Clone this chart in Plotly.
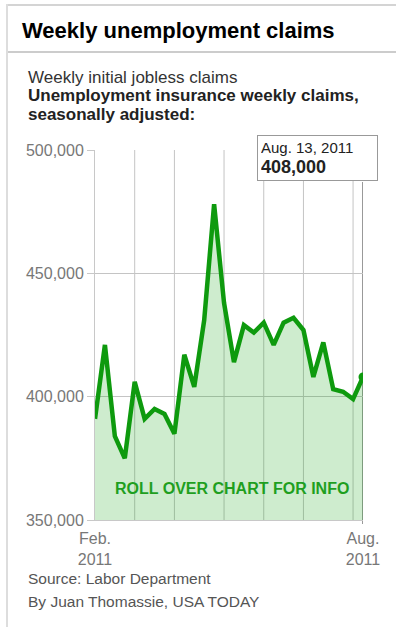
import plotly.graph_objects as go
import pandas as pd

# ---- data ----
weeks = pd.date_range("2011-02-05", "2011-08-13", freq="7D")
claims = [391000, 421000, 384000, 375000, 406000, 391000, 395000, 393000, 385000,
          417000, 404000, 431000, 478000, 438000, 414000, 429000, 426000, 430000,
          421000, 430000, 432000, 427000, 408000, 422000, 403000, 402000, 399000, 408000]
grid_dates = ["2011-03-05", "2011-04-02", "2011-05-07", "2011-06-04", "2011-07-02", "2011-08-06"]
y_ticks = [350000, 400000, 450000, 500000]
x_tick_text = ["Feb.<br>2011", "Aug.<br>2011"]

title = "Weekly unemployment claims"
subtitle = "Weekly initial jobless claims"
subtitle_bold = ["Unemployment insurance weekly claims,", "seasonally adjusted:"]
source = ["Source: Labor Department", "By Juan Thomassie, USA TODAY"]
rollover = "ROLL OVER CHART FOR INFO"

W, H = 396, 627
L, R, T, B = 95, 33, 150, 107
PW, PH = W - L - R, H - T - B

def px(x):
    return (x - L) / PW

def py(y):
    return (H - B - y) / PH

FONT = "Arial, Liberation Sans, sans-serif"
GREEN = "#0e9a0e"

fig = go.Figure()
fig.add_trace(go.Scatter(
    x=weeks, y=claims, mode="lines", fill="tozeroy",
    line=dict(color=GREEN, width=4.5), fillcolor="rgba(25,165,25,0.21)",
    hoverinfo="skip", showlegend=False))
fig.add_trace(go.Scatter(
    x=[weeks[-1]], y=[claims[-1]], mode="markers",
    marker=dict(color=GREEN, size=9), hoverinfo="skip", showlegend=False))

shapes = []
for d in grid_dates:
    shapes.append(dict(type="line", xref="x", yref="paper", x0=d, x1=d, y0=0, y1=1,
                       line=dict(color="#c4c4c4", width=1), layer="below"))
shapes.append(dict(type="line", xref="x", yref="paper", x0=weeks[-1], x1=weeks[-1],
                   y0=py(524), y1=py(182), line=dict(color="#999999", width=2), layer="below"))
shapes.append(dict(type="line", xref="paper", yref="paper", x0=px(7), x1=px(400), y0=py(5), y1=py(5),
                   line=dict(color="#d4d4d4", width=2)))
shapes.append(dict(type="line", xref="paper", yref="paper", x0=px(7), x1=px(400), y0=py(52), y1=py(52),
                   line=dict(color="#cccccc", width=2)))
shapes.append(dict(type="line", xref="paper", yref="paper", x0=px(7), x1=px(7), y0=py(4), y1=py(630),
                   line=dict(color="#dddddd", width=2)))

def txt(text, x, y, size, color, bold=False, anchor="left"):
    return dict(text=("<b>%s</b>" % text) if bold else text, xref="paper", yref="paper",
                x=px(x), y=py(y), xanchor=anchor, yanchor="middle", showarrow=False,
                font=dict(family=FONT, size=size, color=color))

ann = [
    txt(title, 20, 30, 22, "#000", bold=True),
    txt(subtitle, 26, 77, 17, "#333"),
    txt(subtitle_bold[0], 26, 96, 17, "#222", bold=True),
    txt(subtitle_bold[1], 26, 114, 17, "#222", bold=True),
    txt(source[0], 26, 578, 15.5, "#555"),
    txt(source[1], 26, 601, 15.5, "#555"),
    txt(rollover, 232, 488, 16, "#1f9f1f", bold=True, anchor="center"),
]
last_label = weeks[-1].strftime("%b. ") + str(weeks[-1].day) + weeks[-1].strftime(", %Y")
ann.append(dict(text="%s<br><span style='font-size:18px'><b>%s</b></span>" % (last_label, format(claims[-1], ",")),
                xref="x", yref="paper", x=weeks[-1], y=py(158), xshift=15,
                xanchor="right", yanchor="middle", showarrow=False, align="left",
                width=113, bgcolor="#ffffff", bordercolor="#999999", borderwidth=1, borderpad=3,
                font=dict(family=FONT, size=15, color="#222")))

fig.update_layout(
    width=W, height=H, margin=dict(l=L, r=R, t=T, b=B),
    paper_bgcolor="#ffffff", plot_bgcolor="#ffffff",
    shapes=shapes, annotations=ann,
    font=dict(family=FONT, size=16, color="#666"),
    xaxis=dict(range=[weeks[0], weeks[-1]], tickvals=[weeks[0], weeks[-1]], ticktext=x_tick_text,
               showgrid=False, showline=True, linecolor="#c8c8c8", linewidth=1,
               ticks="", zeroline=False, tickfont=dict(color="#777", size=16), fixedrange=True,
               ticklabelstandoff=4),
    yaxis=dict(range=[350000, 500000], tickvals=y_ticks, tickformat=",",
               showgrid=True, gridcolor="#c4c4c4", gridwidth=1, showline=True,
               linecolor="#c8c8c8", ticks="outside", ticklen=7, tickcolor="#c8c8c8",
               zeroline=False, tickfont=dict(color="#777", size=16), fixedrange=True),
)

fig.write_html("out.html")
